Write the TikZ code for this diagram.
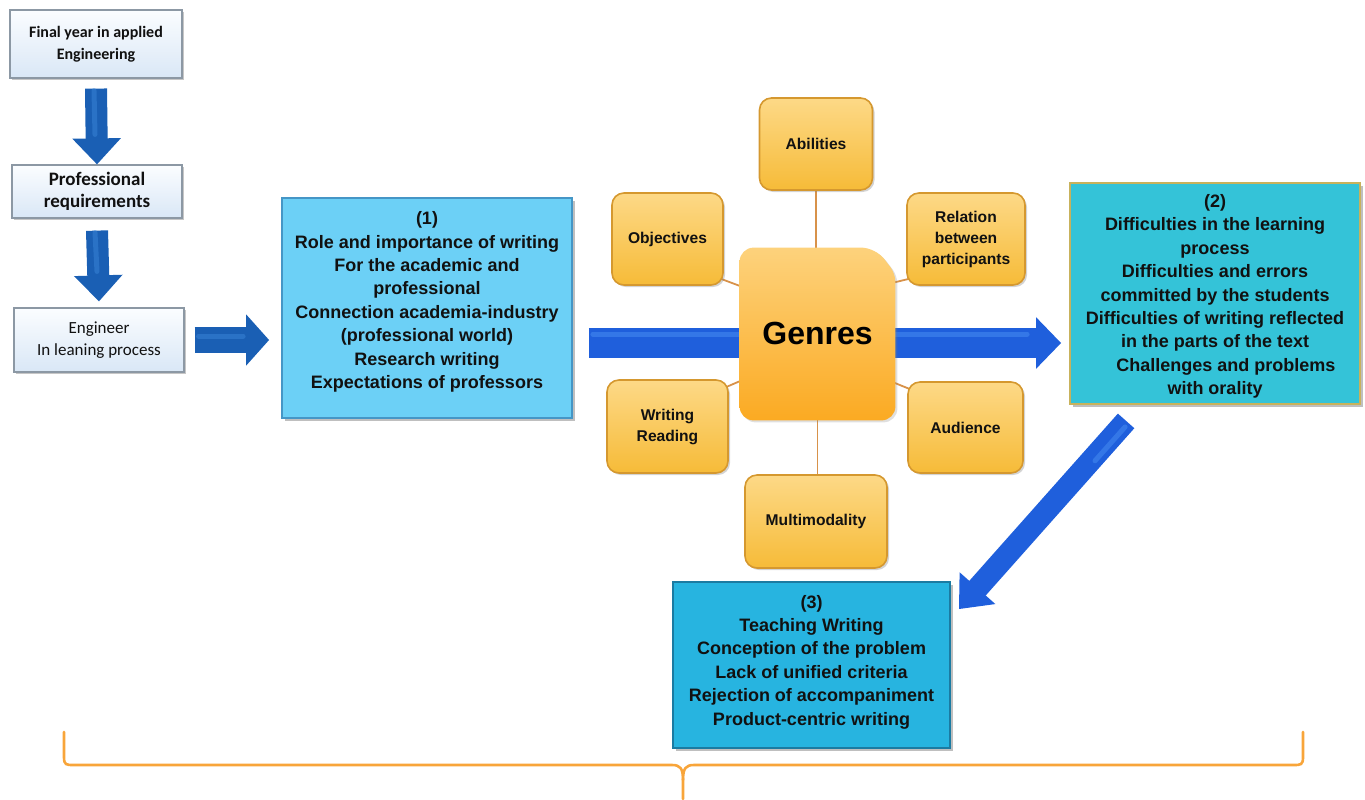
\documentclass[tikz,border=0pt]{standalone}
\usepackage{fontspec}
\setmainfont{Liberation Sans}
\newfontfamily\calib{Carlito}
\usetikzlibrary{arrows.meta,shadows,calc,backgrounds}
\definecolor{bluearrow}{HTML}{1F5FDC}
\definecolor{bluehl}{HTML}{4A90F2}
\definecolor{leftarrow}{HTML}{1A5FB4}
\definecolor{lefthl}{HTML}{3A86D8}
\definecolor{boxonefill}{HTML}{6CD0F6}
\definecolor{boxoneborder}{HTML}{4596C6}
\definecolor{boxtwofill}{HTML}{34C3D8}
\definecolor{boxtwoborder}{HTML}{C8B25C}
\definecolor{boxthreefill}{HTML}{27B4E0}
\definecolor{boxthreeborder}{HTML}{1B7BA2}
\definecolor{gtop}{HTML}{FDD27C}
\definecolor{gbot}{HTML}{FBAA22}
\definecolor{stop}{HTML}{FDD987}
\definecolor{sbot}{HTML}{F6BB38}
\definecolor{sborder}{HTML}{D5982F}
\definecolor{connc}{HTML}{D8924A}
\definecolor{bracec}{HTML}{F8A53A}
\definecolor{lbtop}{HTML}{FBFDFF}
\definecolor{lbbot}{HTML}{D9E7F6}
\definecolor{lbborder}{HTML}{8C98A4}
\definecolor{txt}{HTML}{111111}
\tikzset{
  leftbox/.style={draw=lbborder, line width=0.6pt, top color=lbtop, bottom color=lbbot,
    align=center, inner sep=0pt, text=txt,
    drop shadow={shadow xshift=1.2pt, shadow yshift=-1.2pt, opacity=0.45}},
  bigbox/.style={line width=0.9pt, inner sep=0pt,
    drop shadow={shadow xshift=1.5pt, shadow yshift=-1.5pt, opacity=0.5}},
  boxtext/.style={align=center, inner sep=0pt, text=txt,
    font=\bfseries\fontsize{9}{11.7}\selectfont},
  sat/.style={draw=sborder, line width=0.8pt, rounded corners=6pt,
    top color=stop, bottom color=sbot, align=center, inner sep=0pt, text=txt,
    font=\bfseries\fontsize{7.8}{10.5}\selectfont,
    drop shadow={shadow xshift=1pt, shadow yshift=-1pt, opacity=0.35}},
  gtext/.style={inner sep=0pt, font=\bfseries\fontsize{16}{18}\selectfont, text=black},
  conn/.style={draw=connc, line width=0.9pt},
  darrow/.style={draw=leftarrow, line width=11pt,
    -{Triangle[width=23.5pt,length=13pt]}, color=leftarrow},
  rarrow/.style={draw=leftarrow, line width=13pt,
    -{Triangle[width=25pt,length=11.5pt]}, color=leftarrow},
  harrow/.style={draw=bluearrow, line width=15pt,
    -{Triangle[width=25pt,length=12.5pt]}, color=bluearrow},
  diarrow/.style={draw=bluearrow, line width=11pt,
    -{Triangle[width=23pt,length=14pt]}, color=bluearrow},
  hl/.style={line width=2.5pt, opacity=0.5, line cap=round},
}
\begin{document}
\begin{tikzpicture}[x=0.5pt,y=-0.5pt]
\useasboundingbox (0,0) rectangle (1365,799);

% left column
\node[leftbox, minimum width=86pt, minimum height=34pt,
  font=\calib\bfseries\fontsize{8}{11}\selectfont] (fy) at (96,44) {Final year in applied\\Engineering};
\node[leftbox, minimum width=85pt, minimum height=26.5pt,
  font=\calib\bfseries\fontsize{9.5}{11}\selectfont] (pr) at (97,191.5) {Professional\\requirements};
\node[leftbox, minimum width=85pt, minimum height=32pt,
  font=\calib\fontsize{8.5}{11}\selectfont] (en) at (99,340) {Engineer\\In leaning process};

% box (1)
\node[bigbox, draw=boxoneborder, fill=boxonefill, minimum width=145pt, minimum height=110pt] (b1) at (427,308) {};
\node[boxtext] (t1) at ($(b1.center)+(0,-6)$) {(1)\\Role and importance of writing\\For the academic and\\professional\\Connection academia-industry\\(professional world)\\Research writing\\Expectations of professors};

% box (2)
\node[bigbox, draw=boxtwoborder, fill=boxtwofill, minimum width=145pt, minimum height=110.5pt] (b2) at (1215,293.5) {};
\node[boxtext] (t2) at ($(b2.center)+(0,3)$) {(2)\\Difficulties in the learning\\process\\Difficulties and errors\\committed by the students\\Difficulties of writing reflected\\in the parts of the text\\\hspace*{1.2em}Challenges and problems\\with orality};

% box (3)
\node[bigbox, draw=boxthreeborder, fill=boxthreefill, minimum width=138.5pt, minimum height=83pt] (b3) at (811.5,665) {};
\node[boxtext] (t3) at ($(b3.center)+(0,-3)$) {(3)\\Teaching Writing\\Conception of the problem\\Lack of unified criteria\\Rejection of accompaniment\\Product-centric writing};

% genres (frame node, bevelled shaded body, then its label)
\node[minimum width=77.5pt, minimum height=86pt, inner sep=0pt] (g) at (817.5,334) {};
\shade[top color=gtop, bottom color=gbot, rounded corners=7pt,
  drop shadow={shadow xshift=1pt, shadow yshift=-1pt, opacity=0.25}]
  (g.south west) -- (g.north west) -- ($(g.north east)+(-20,0)$)
  [rounded corners=4pt] -- ($(g.north east)+(0,26)$) [rounded corners=7pt] -- (g.south east) -- cycle;
\node[gtext] (gt) at ($(g.center)+(0,-1)$) {Genres};

% satellites
\node[sat, minimum width=56.5pt, minimum height=46pt] (ab) at (816,144) {Abilities};
\node[sat, minimum width=55.5pt, minimum height=46pt] (ob) at (667.5,239) {Objectives};
\node[sat, minimum width=59pt, minimum height=46pt] (re) at (966,239) {Relation\\between\\participants};
\node[sat, minimum width=60.5pt, minimum height=46.5pt] (wr) at (667.5,426.5) {Writing\\Reading};
\node[sat, minimum width=57.5pt, minimum height=45.5pt] (au) at (965.5,427.5) {Audience};
\node[sat, minimum width=71pt, minimum height=46.5pt] (mm) at (816,521.5) {Multimodality};

\begin{scope}[on background layer]
  \draw[conn] (ab.south) -- (ab.south |- g.north);
  \draw[conn] (g.south) -- (g.south |- mm.north);
  \draw[conn] ($(ob.south east)+(-3,-7)$) -- ($(g.north west)+(2,39)$);
  \draw[conn] ($(re.south west)+(3,-7)$) -- ($(g.north east)+(-2,35)$);
  \draw[conn] ($(wr.north east)+(-3,8)$) -- ($(g.south west)+(2,-40)$);
  \draw[conn] ($(au.north west)+(3,8)$) -- ($(g.south east)+(-2,-38)$);
  % big horizontal arrow
  \draw[harrow] ($(b1.east)+(16,35)$) -- ($(b2.west |- b1.east)+(-8,35)$);
  \draw[bluehl, hl] ($(b1.east)+(20,26)$) -- ($(b2.west |- b1.east)+(-42,26)$);
\end{scope}

% left arrows
\draw[darrow] ([yshift=-5pt]fy.south) -- (pr.north);
\draw[lefthl, hl] ([yshift=-6pt,xshift=-1pt]fy.south) -- ([yshift=15pt,xshift=-1pt]pr.north);
\draw[darrow] ([yshift=-6pt]pr.south) -- ([yshift=3pt]en.north);
\draw[lefthl, hl] ([yshift=-7pt,xshift=-1pt]pr.south) -- ([yshift=18pt,xshift=-1pt]en.north);
\draw[rarrow] ([xshift=5pt]en.east) -- ([xshift=-6pt]b1.west |- en.east);
\draw[lefthl, hl] ([xshift=7pt,yshift=2pt]en.east) -- ([xshift=-19pt,yshift=2pt]b1.west |- en.east);

% diagonal arrow
\coordinate (ds) at ($(b2.south west)+(57,16)$);
\coordinate (de) at ($(b3.north east)+(8,28)$);
\draw[diarrow] (ds) -- (de);
\draw[bluehl, hl] ($(ds)+(-1,6)$) -- ($(de)!0.82!(ds)+(-1,6)$);

% brace
\draw[bracec, line width=1.3pt, line cap=round]
  (64,732) -- (64,757) .. controls (64,765) and (66,765) .. (74,765)
  -- (672,765) .. controls (680,765) and (683,768) .. (683,780) -- (683,799);
\draw[bracec, line width=1.3pt, line cap=round]
  (1303,732) -- (1303,757) .. controls (1303,765) and (1301,765) .. (1293,765)
  -- (694,765) .. controls (686,765) and (683,768) .. (683,780);
\end{tikzpicture}
\end{document}
